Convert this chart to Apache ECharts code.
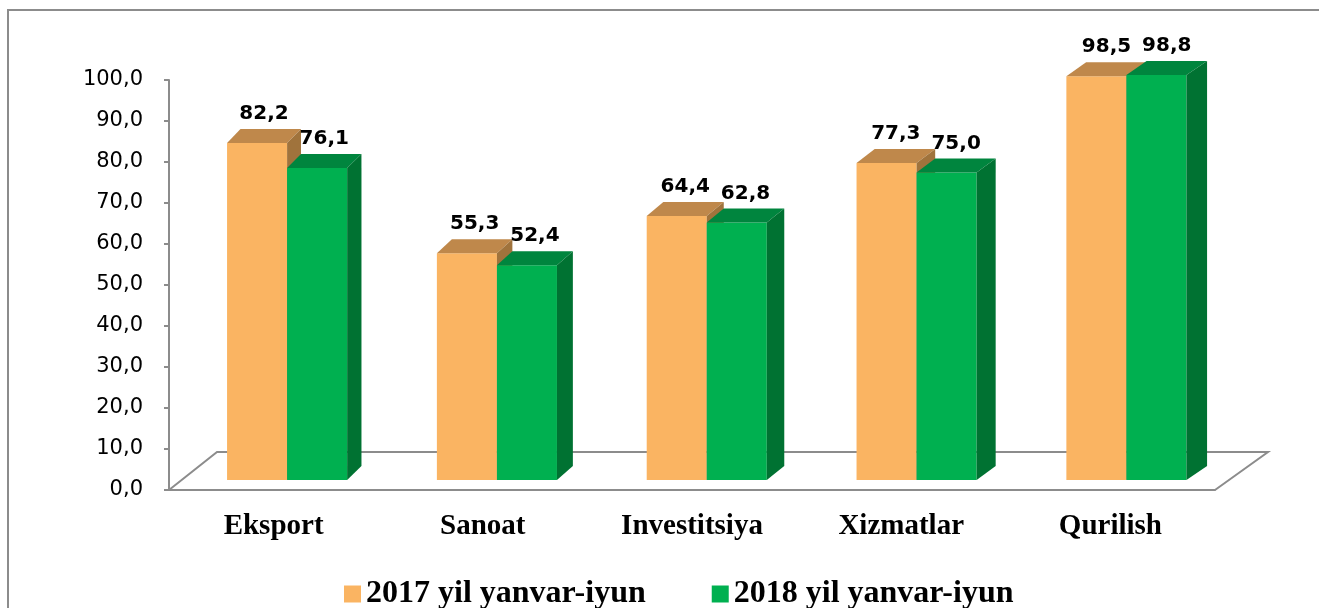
<!DOCTYPE html>
<html>
<head>
<meta charset="utf-8">
<script src="https://cdn.jsdelivr.net/npm/echarts@6/dist/echarts.min.js"></script>
<style>
html, body { margin: 0; padding: 0; background: #fff; }
#chart { width: 1319px; height: 608px; }
</style>
</head>
<body>
<div id="chart"></div>
<script>
var categories = ['Eksport', 'Sanoat', 'Investitsiya', 'Xizmatlar', 'Qurilish'];
var seriesNames = ['2017 yil yanvar-iyun', '2018 yil yanvar-iyun'];
var values2017 = [82.2, 55.3, 64.4, 77.3, 98.5];
var values2018 = [76.1, 52.4, 62.8, 75.0, 98.8];

// front / top / side colours of the fake 3d boxes
var frontColors = ['#FAB462', '#00B050'];
var topColors = ['#BF884B', '#00853E'];
var sideColors = ['#A0733C', '#007232'];

var chartDom = document.getElementById('chart');
var myChart = echarts.init(chartDom);

function fmt(v) {
    return v.toFixed(1).replace('.', ',');
}

// a little perspective: depth grows to the right
function depthX(x) {
    return 13 + (x - 170) * 0.0075;
}

function barRenderer(idx) {
    return function (params, api) {
        var cat = api.value(0);
        var val = api.value(1);
        var base = api.coord([cat, 0]);
        var top = api.coord([cat, val]);
        var band = api.size([1, 0])[0];
        var w = band * 0.287;
        var cx = base[0] + 13.5 + (base[0] - 274) * 0.003;
        var x0 = cx - w + idx * w;
        var x1 = x0 + w;
        var yb = base[1] - 10;
        var yt = top[1] - 10;
        var dy = -14;
        var dx0 = depthX(x0), dx1 = depthX(x1);
        return {
            type: 'group',
            children: [
                {
                    type: 'rect',
                    shape: { x: x0, y: yt, width: w, height: yb - yt },
                    style: { fill: frontColors[idx] }
                },
                {
                    type: 'polygon',
                    shape: { points: [[x0, yt], [x0 + dx0, yt + dy], [x1 + dx1, yt + dy], [x1, yt]] },
                    style: { fill: topColors[idx] }
                },
                {
                    type: 'polygon',
                    shape: { points: [[x1, yt], [x1 + dx1, yt + dy], [x1 + dx1, yb + dy], [x1, yb]] },
                    style: { fill: sideColors[idx] }
                },
                {
                    type: 'text',
                    style: {
                        text: fmt(val),
                        x: (x0 + x1) / 2 + dx1 / 2,
                        y: yt + dy - 5,
                        align: 'center',
                        verticalAlign: 'bottom',
                        fontFamily: 'DejaVu Sans',
                        fontWeight: 'bold',
                        fontSize: 20,
                        fill: '#000'
                    }
                }
            ]
        };
    };
}

function floorRenderer(params, api) {
    var band = api.size([1, 0])[0];
    var first = api.coord([0, 0]);
    var last = api.coord([categories.length - 1, 0]);
    var xl = first[0] - band / 2;
    var xr = last[0] + band / 2;
    var y0 = first[1];
    return {
        type: 'polyline',
        shape: { points: [[xl, y0], [xl + 48, y0 - 38], [xr + 53, y0 - 38], [xr, y0]] },
        style: { stroke: '#8c8c8c', lineWidth: 2, fill: null }
    };
}

var data2017 = values2017.map(function (v, i) { return [i, v]; });
var data2018 = values2018.map(function (v, i) { return [i, v]; });

var option = {
    animation: false,
    graphic: [{
        type: 'polyline',
        shape: { points: [[8, 700], [8, 10], [1400, 10]] },
        style: { fill: null, stroke: '#8c8c8c', lineWidth: 2 }
    }],
    grid: { left: 169, right: 104, top: 80, bottom: 118 },
    legend: {
        data: seriesNames,
        left: 339,
        top: 573,
        icon: 'rect',
        itemWidth: 17,
        itemHeight: 17,
        itemGap: 66,
        textStyle: {
            fontFamily: 'Liberation Serif',
            fontWeight: 'bold',
            fontSize: 32,
            color: '#000'
        }
    },
    xAxis: {
        type: 'category',
        data: categories,
        axisLine: { lineStyle: { color: '#8c8c8c', width: 2 } },
        axisTick: { length: 7, lineStyle: { color: '#8c8c8c', width: 2 } },
        axisLabel: {
            margin: 22,
            fontFamily: 'Liberation Serif',
            fontWeight: 'bold',
            fontSize: 29,
            color: '#000'
        }
    },
    yAxis: {
        type: 'value',
        min: 0,
        max: 100,
        interval: 10,
        axisLine: { show: true, lineStyle: { color: '#8c8c8c', width: 2 } },
        axisTick: { show: true, length: 5, lineStyle: { color: '#8c8c8c', width: 2 } },
        splitLine: { show: false },
        axisLabel: {
            margin: 26,
            fontFamily: 'DejaVu Sans',
            fontSize: 21,
            color: '#000',
            formatter: fmt
        }
    },
    series: [
        {
            type: 'custom',
            name: 'floor',
            renderItem: floorRenderer,
            data: [[0, 0]],
            z: 1,
            silent: true
        },
        {
            type: 'custom',
            name: seriesNames[0],
            renderItem: barRenderer(0),
            itemStyle: { color: frontColors[0] },
            data: data2017,
            z: 3
        },
        {
            type: 'custom',
            name: seriesNames[1],
            renderItem: barRenderer(1),
            itemStyle: { color: frontColors[1] },
            data: data2018,
            z: 4
        }
    ]
};

myChart.setOption(option);
</script>
</body>
</html>
